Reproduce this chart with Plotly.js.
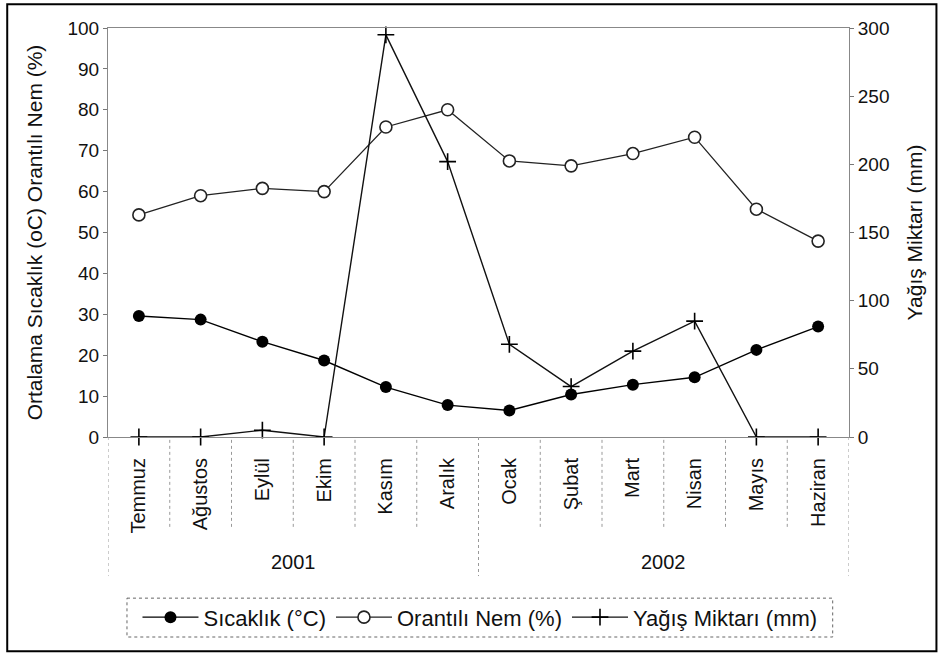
<!DOCTYPE html>
<html>
<head>
<meta charset="utf-8">
<script src="https://cdn.plot.ly/plotly-3.0.1.min.js"></script>
<style>html,body{margin:0;padding:0;background:#fff;}#chart{width:943px;height:657px;}</style>
</head>
<body>
<div id="chart"></div>
<script>
const months = ["Temmuz","Ağustos","Eylül","Ekim","Kasım","Aralık","Ocak","Şubat","Mart","Nisan","Mayıs","Haziran"];
const years = ["2001","2002"];
const sicaklik = [29.6, 28.7, 23.3, 18.7, 12.2, 7.8, 6.5, 10.4, 12.8, 14.6, 21.3, 27.0];
const nem = [54.3, 59.0, 60.8, 60.0, 75.8, 80.0, 67.5, 66.3, 69.3, 73.3, 55.7, 47.9];
const yagis = [0, 0, 5, 0, 295, 202, 68, 37, 63, 85, 0, 0];

const F = "Liberation Sans, Arial, sans-serif";
const idx = months.map((m,i)=>i);

const traces = [
  {x: idx, y: sicaklik, name: "Sıcaklık (°C)", mode: "lines+markers", yaxis: "y",
   line: {color: "#000", width: 1.4}, marker: {symbol: "circle", size: 12, color: "#000"}, cliponaxis: false},
  {x: idx, y: nem, name: "Orantılı Nem (%)", mode: "lines+markers", yaxis: "y",
   line: {color: "#222", width: 1.3}, marker: {symbol: "circle", size: 12, color: "#fff", line: {color: "#222", width: 1.6}}, cliponaxis: false},
  {x: idx, y: yagis, name: "Yağış Miktarı (mm)", mode: "lines+markers", yaxis: "y2",
   line: {color: "#111", width: 1.4}, marker: {symbol: "cross-thin-open", size: 12, color: "#000", line: {color: "#000", width: 1.6}}, cliponaxis: false}
];

const shapes = [];
for (let k = 0; k <= 12; k++) {
  const long = (k === 0 || k === 6 || k === 12);
  shapes.push({type: "line", xref: "x", yref: "paper", x0: k - 0.5, x1: k - 0.5,
    y0: long ? 0 : -0.007, y1: long ? -0.34 : -0.227,
    line: {color: "#999", width: 1, dash: "dot"}});
}
shapes.push({type: "rect", xref: "paper", yref: "paper", x0: 0.0256, x1: 0.978, y0: -0.394, y1: -0.489,
  line: {color: "#666", width: 1, dash: "dot"}});
shapes.push({type: "rect", xref: "paper", yref: "paper", x0: -0.136, x1: 1.118, y0: 1.058, y1: -0.524,
  line: {color: "#000", width: 2}});

const annotations = [
  {text: years[0], xref: "x", yref: "paper", x: 2.5, y: -0.306, yanchor: "middle", showarrow: false, font: {family: F, size: 20, color: "#111"}},
  {text: years[1], xref: "x", yref: "paper", x: 8.5, y: -0.306, yanchor: "middle", showarrow: false, font: {family: F, size: 20, color: "#111"}}
];

const layout = {
  width: 943, height: 657,
  margin: {l: 108, r: 94, t: 28, b: 220},
  paper_bgcolor: "#fff", plot_bgcolor: "#fff",
  font: {family: F, color: "#111"},
  showlegend: true,
  legend: {orientation: "h", x: 0.502, xanchor: "center", y: -0.441, yanchor: "middle",
    font: {family: F, size: 22, color: "#111"}, itemwidth: 56, bgcolor: "rgba(0,0,0,0)", tracegroupgap: 0},
  xaxis: {type: "linear", range: [-0.5, 11.5], tickmode: "array", tickvals: idx, ticktext: months,
    tickangle: -90, tickfont: {family: F, size: 20, color: "#111"}, showgrid: false, zeroline: false,
    showline: true, linecolor: "#888", linewidth: 1, mirror: true, ticks: "", ticklabelstandoff: 12},
  yaxis: {range: [0, 100], dtick: 10, tickfont: {family: F, size: 19, color: "#111"}, showgrid: false, zeroline: false,
    showline: true, linecolor: "#888", linewidth: 1, ticks: "outside", ticklen: 4, tickcolor: "#777",
    title: {text: "Ortalama Sıcaklık (oC) Orantılı Nem (%)", font: {family: F, size: 21, color: "#111"}, standoff: 19}},
  yaxis2: {range: [0, 300], dtick: 50, overlaying: "y", side: "right", tickfont: {family: F, size: 19, color: "#111"},
    showgrid: false, zeroline: false, showline: true, linecolor: "#888", linewidth: 1, ticks: "outside", ticklen: 4, tickcolor: "#777",
    title: {text: "Yağış Miktarı (mm)", font: {family: F, size: 21, color: "#111"}, standoff: 18}},
  shapes: shapes,
  annotations: annotations
};

Plotly.newPlot("chart", traces, layout, {displayModeBar: false, staticPlot: true});
</script>
</body>
</html>
